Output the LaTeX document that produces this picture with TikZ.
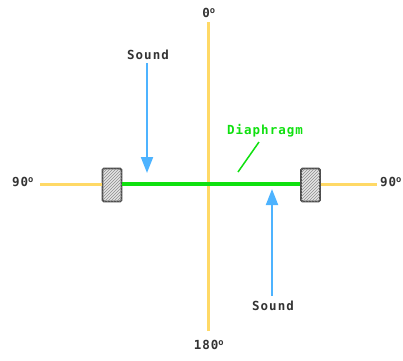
\documentclass[tikz,border=0pt]{standalone}
\usepackage{fontspec}
\setmonofont[LetterSpace=8]{DejaVu Sans Mono}
\usetikzlibrary{arrows.meta,patterns}
\definecolor{axisy}{HTML}{FFD966}
\definecolor{sndblue}{HTML}{4DB3FF}
\definecolor{diagreen}{HTML}{10E010}
\definecolor{txtgray}{HTML}{333333}
\begin{document}
\begin{tikzpicture}[x=1pt,y=-1pt,
  axis/.style={draw=axisy,line width=3pt},
  lbl/.style={font=\ttfamily\bfseries\fontsize{12.5}{14}\selectfont,text=txtgray,inner sep=0pt},
  holder/.style={draw=black!70,line width=1.8pt,rounded corners=1.5pt,minimum width=19pt,minimum height=33pt,inner sep=0pt,fill=black!10,postaction={pattern=north east lines,pattern color=black!45}},
  sndarrow/.style={draw=sndblue,line width=2pt,-{Triangle[length=16pt,width=12pt]}},
]
\useasboundingbox (0,0) rectangle (403,360);
\coordinate (vtop) at (208,22);
\coordinate (vbot) at (208,331);
\coordinate (hl) at (40,184);
\coordinate (hr) at (377,184);
\draw[axis] (vtop) -- (vbot);
\node[holder] (bl) at (112,185) {};
\node[holder] (br) at (310.5,185) {};
\draw[axis] (hl) -- (hl -| bl.west);
\draw[axis] (hr -| br.east) -- (hr);
\draw[draw=diagreen,line width=4pt] (hl -| bl.east) -- (hl -| br.west);
\node[lbl] (t0) at (209,13) {0\textsuperscript{o}};
\node[lbl] (t180) at (209,345) {180\textsuperscript{o}};
\node[lbl] (tl) at (23,182) {90\textsuperscript{o}};
\node[lbl] (tr) at (391,182) {90\textsuperscript{o}};
\node[lbl] (s1) at (148,55) {Sound};
\node[lbl] (s2) at (273,306) {Sound};
\coordinate (a1) at (147,173);
\coordinate (a2) at (272,189);
\draw[sndarrow] (s1.south -| a1) ++(0,3) coordinate (a1s) -- (a1);
\draw[sndarrow] (s2.north -| a2) ++(0,-5) coordinate (a2s) -- (a2);
\node[lbl,text=diagreen] (dia) at (265,131) {Diaphragm};
\coordinate (dend) at (238,172);
\draw[draw=diagreen,line width=1.5pt] (259,142) -- (dend);
\end{tikzpicture}
\end{document}
